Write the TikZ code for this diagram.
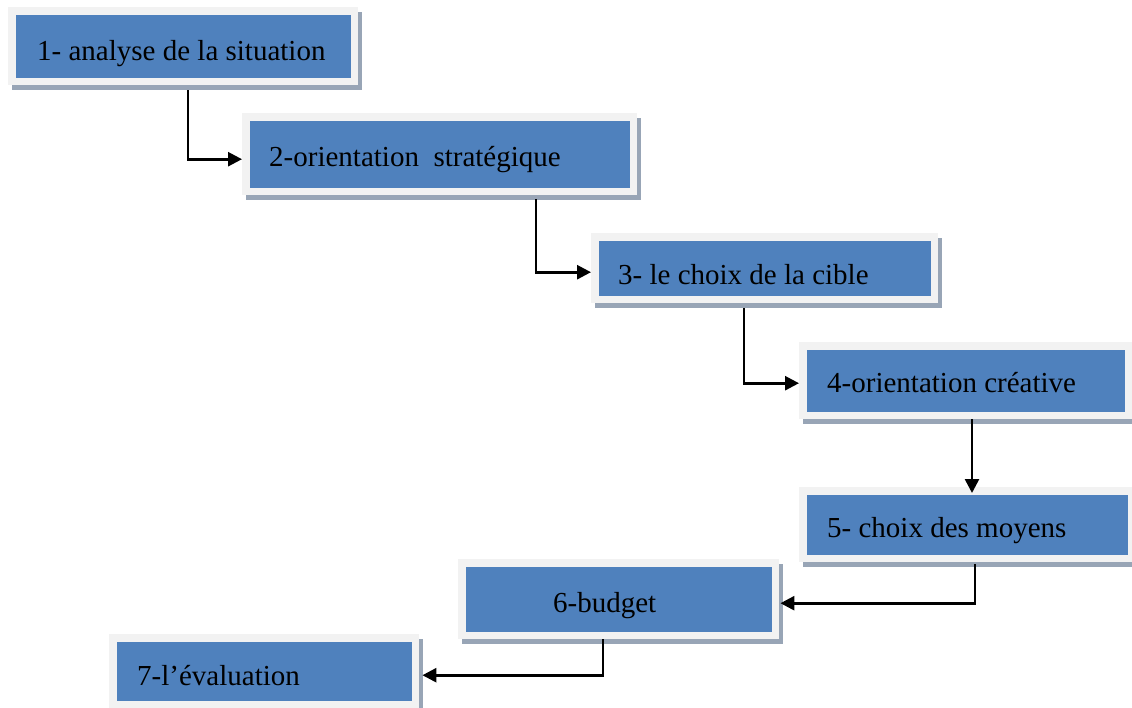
\documentclass[tikz,border=0pt]{standalone}
\usepackage{fontspec}
\setmainfont{Liberation Serif}
\usetikzlibrary{arrows.meta,shadows}

\definecolor{boxblue}{RGB}{79,129,189}
\definecolor{framegray}{RGB}{242,242,242}
\definecolor{shadowgray}{RGB}{152,165,182}

\tikzset{
  boxframe/.style={rectangle, inner sep=0pt, anchor=north west, fill=framegray, draw=none,
    drop shadow={shadow xshift=3.5pt, shadow yshift=-4.5pt, fill=shadowgray, opacity=1},
    path picture={\fill[boxblue]
      ([shift={(7.5pt,-7.5pt)}]path picture bounding box.north west) rectangle
      ([shift={(-7.5pt,7.5pt)}]path picture bounding box.south east);}},
  steplabel/.style={inner sep=0pt, anchor=base west, font=\fontsize{29}{34}\selectfont},
  conn/.style={line width=2.6pt, -{Triangle[length=14pt,width=14pt]}}
}

\begin{document}
\begin{tikzpicture}[x=1pt,y=-1pt]
\useasboundingbox (0,0) rectangle (1132,707);

% boxes: light frame, blue face, slate drop shadow
\node[boxframe, minimum width=350pt, minimum height=78pt] (b1) at (8,7) {};
\node[boxframe, minimum width=395pt, minimum height=82pt] (b2) at (242,113) {};
\node[boxframe, minimum width=347pt, minimum height=70pt] (b3) at (591,233) {};
\node[boxframe, minimum width=333pt, minimum height=77pt] (b4) at (799,342) {};
\node[boxframe, minimum width=336pt, minimum height=75pt] (b5) at (799,487) {};
\node[boxframe, minimum width=321pt, minimum height=80pt] (b6) at (458,559) {};
\node[boxframe, minimum width=310pt, minimum height=74pt] (b7) at (109,634) {};

% labels
\node[steplabel] (t1) at (37,60) {1- analyse de la situation};
\node[steplabel] (t2) at (269,166) {2-orientation~~stratégique};
\node[steplabel] (t3) at (618,284) {3- le choix de la cible};
\node[steplabel] (t4) at (827,392) {4-orientation créative};
\node[steplabel] (t5) at (827,537) {5- choix des moyens};
\node[steplabel] (t6) at (553,612) {6-budget};
\node[steplabel] (t7) at (137,685) {7-l’évaluation};

% connectors
\draw[conn] ([shift={(180pt,-5pt)}]b1.south west) |- ([yshift=-5pt]b2.west);
\draw[conn] ([shift={(294pt,-4pt)}]b2.south west) |- ([yshift=-4pt]b3.west);
\draw[conn] ([shift={(153pt,-5pt)}]b3.south west) |- ([yshift=-2.5pt]b4.west);
\draw[conn] ([xshift=173pt]b4.south west) -- ([shift={(173pt,-6pt)}]b5.north west);
\draw[conn] ([shift={(176pt,-2pt)}]b5.south west) |- ([shift={(1pt,-4pt)}]b6.east);
\draw[conn] ([xshift=145pt]b6.south west) |- ([shift={(3pt,-4pt)}]b7.east);
\end{tikzpicture}
\end{document}
